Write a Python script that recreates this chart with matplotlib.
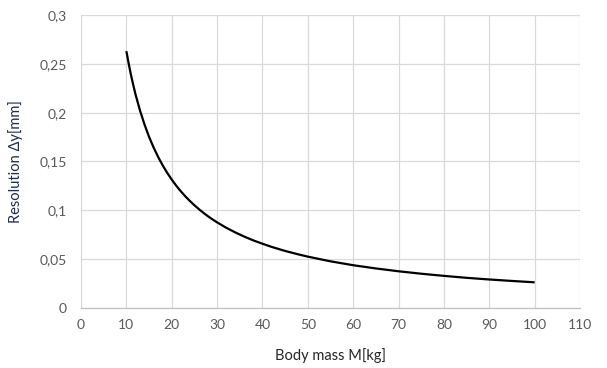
import matplotlib
matplotlib.use("Agg")
import matplotlib.pyplot as plt
from matplotlib.ticker import FuncFormatter, MultipleLocator

# --- Data ---
body_mass = [10, 10.5, 11, 11.5, 12, 13, 14, 15, 16, 17, 18, 19, 20, 21, 22, 23, 24, 25, 26, 27,
             28, 29, 30, 32, 34, 36, 38, 40, 42, 45, 48, 50, 55, 60, 65, 70, 75, 80, 85, 90, 95, 100]
resolution = [0.263, 0.2505, 0.239, 0.2287, 0.219, 0.2023, 0.1879, 0.1753, 0.1644, 0.1547, 0.1461,
              0.1384, 0.1315, 0.1252, 0.1195, 0.1143, 0.1096, 0.1052, 0.1012, 0.0974, 0.0939,
              0.0907, 0.0877, 0.0822, 0.0774, 0.0731, 0.0692, 0.0658, 0.0626, 0.0584, 0.0548,
              0.0526, 0.0478, 0.0438, 0.0405, 0.0376, 0.0351, 0.0329, 0.0309, 0.0292, 0.0277, 0.0263]

x_label = "Body mass M[kg]"
y_label = "Resolution \u0394y[mm]"

plt.rcParams['font.family'] = ['Lato', 'DejaVu Sans']

fig = plt.figure(figsize=(6.07, 3.68), dpi=100)
ax = fig.add_axes([81 / 607, 1 - 308 / 368, 499 / 607, 293 / 368])

ax.plot(body_mass, resolution, color='black', linewidth=1.6,
        solid_capstyle='butt', solid_joinstyle='round')

ax.set_xlim(0, 110)
ax.set_ylim(0, 0.3)
ax.xaxis.set_major_locator(MultipleLocator(10))
ax.yaxis.set_major_locator(MultipleLocator(0.05))

comma = FuncFormatter(lambda v, pos: ('%g' % round(v, 4)).replace('.', ','))
ax.xaxis.set_major_formatter(comma)
ax.yaxis.set_major_formatter(comma)

ax.grid(True, color='#d9d9d9', linewidth=0.9)
ax.set_axisbelow(True)
for side in ['top', 'right', 'left']:
    ax.spines[side].set_visible(False)
ax.spines['bottom'].set_color('#bfbfbf')
ax.spines['bottom'].set_linewidth(0.9)

ax.tick_params(length=0, labelsize=10, labelcolor='#595959')
ax.tick_params(axis='y', pad=10)
ax.tick_params(axis='x', pad=8)

ax.set_xlabel(x_label, fontsize=10.5, color='#262626', labelpad=12)
ax.set_ylabel(y_label, fontsize=10.5, color='#1f2d4d', labelpad=12)

fig.savefig("out.png", dpi=100)
